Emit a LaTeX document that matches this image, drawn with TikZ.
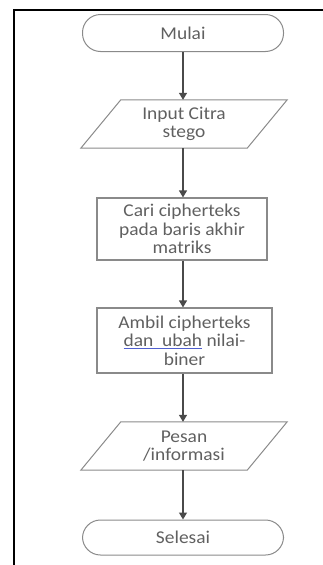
\documentclass[tikz,border=0pt]{standalone}
\usepackage{fontspec}
\setmainfont{Carlito}[FakeStretch=1.08]
\usetikzlibrary{arrows.meta}
\definecolor{txtgray}{HTML}{606060}
\definecolor{linegray}{HTML}{8A8A8A}
\definecolor{arrgray}{HTML}{4A4A4A}
\definecolor{spellblue}{HTML}{5060D0}
\tikzset{
  base/.style={text=txtgray, font=\fontsize{18}{18.5}\selectfont, align=center, inner sep=2pt},
  terminal/.style={base, draw=linegray, line width=1pt, rounded corners=18pt,
    minimum width=201pt, minimum height=37pt},
  process/.style={base, draw=linegray, line width=1.2pt, minimum height=62pt},
  iobox/.style={base, draw=none, minimum width=166pt, minimum height=48pt},
  ioshape/.style={draw=linegray, line width=1pt},
  flow/.style={draw=arrgray, line width=1.3pt, -{Triangle[length=7pt,width=8pt]}}
}
\begin{document}
\begin{tikzpicture}[x=1pt,y=-1pt]
\useasboundingbox (0,0) rectangle (323,565);
% frame on the left and top
\draw[line width=2.2pt] (14,565) -- (14,10) -- (323,10);

% nodes of the flow
\node[terminal] (start) at (183,33) {Mulai};
\node[iobox] (input) at (184,124) {Input Citra\\stego};
\node[process, minimum width=170pt, minimum height=62pt] (cari) at (182,229)
  {Cari cipherteks\\pada baris akhir\\matriks};
\node[process, minimum width=175pt, minimum height=65pt] (ambil) at (184.5,340.5)
  {Ambil cipherteks\\{\color{spellblue}\underline{\color{txtgray}dan~~ubah}} nilai-\\biner};
\node[iobox] (pesan) at (184,446) {Pesan\\/informasi};
\node[terminal, minimum height=35pt] (end) at (183,537.5) {Selesai};

% parallelogram outlines of the input/output nodes
\foreach \n in {input,pesan}{
  \draw[ioshape] ([xshift=20pt]\n.north west) -- ([xshift=20pt]\n.north east)
    -- ([xshift=-20pt]\n.south east) -- ([xshift=-20pt]\n.south west) -- cycle;
}

% connectors
\draw[flow] (start.south) -- (start.south |- input.north);
\draw[flow] (start.south |- input.south) -- (start.south |- cari.north);
\draw[flow] (start.south |- cari.south) -- (start.south |- ambil.north);
\draw[flow] (start.south |- ambil.south) -- (start.south |- pesan.north);
\draw[flow] (start.south |- pesan.south) -- (start.south |- end.north);
\end{tikzpicture}
\end{document}
